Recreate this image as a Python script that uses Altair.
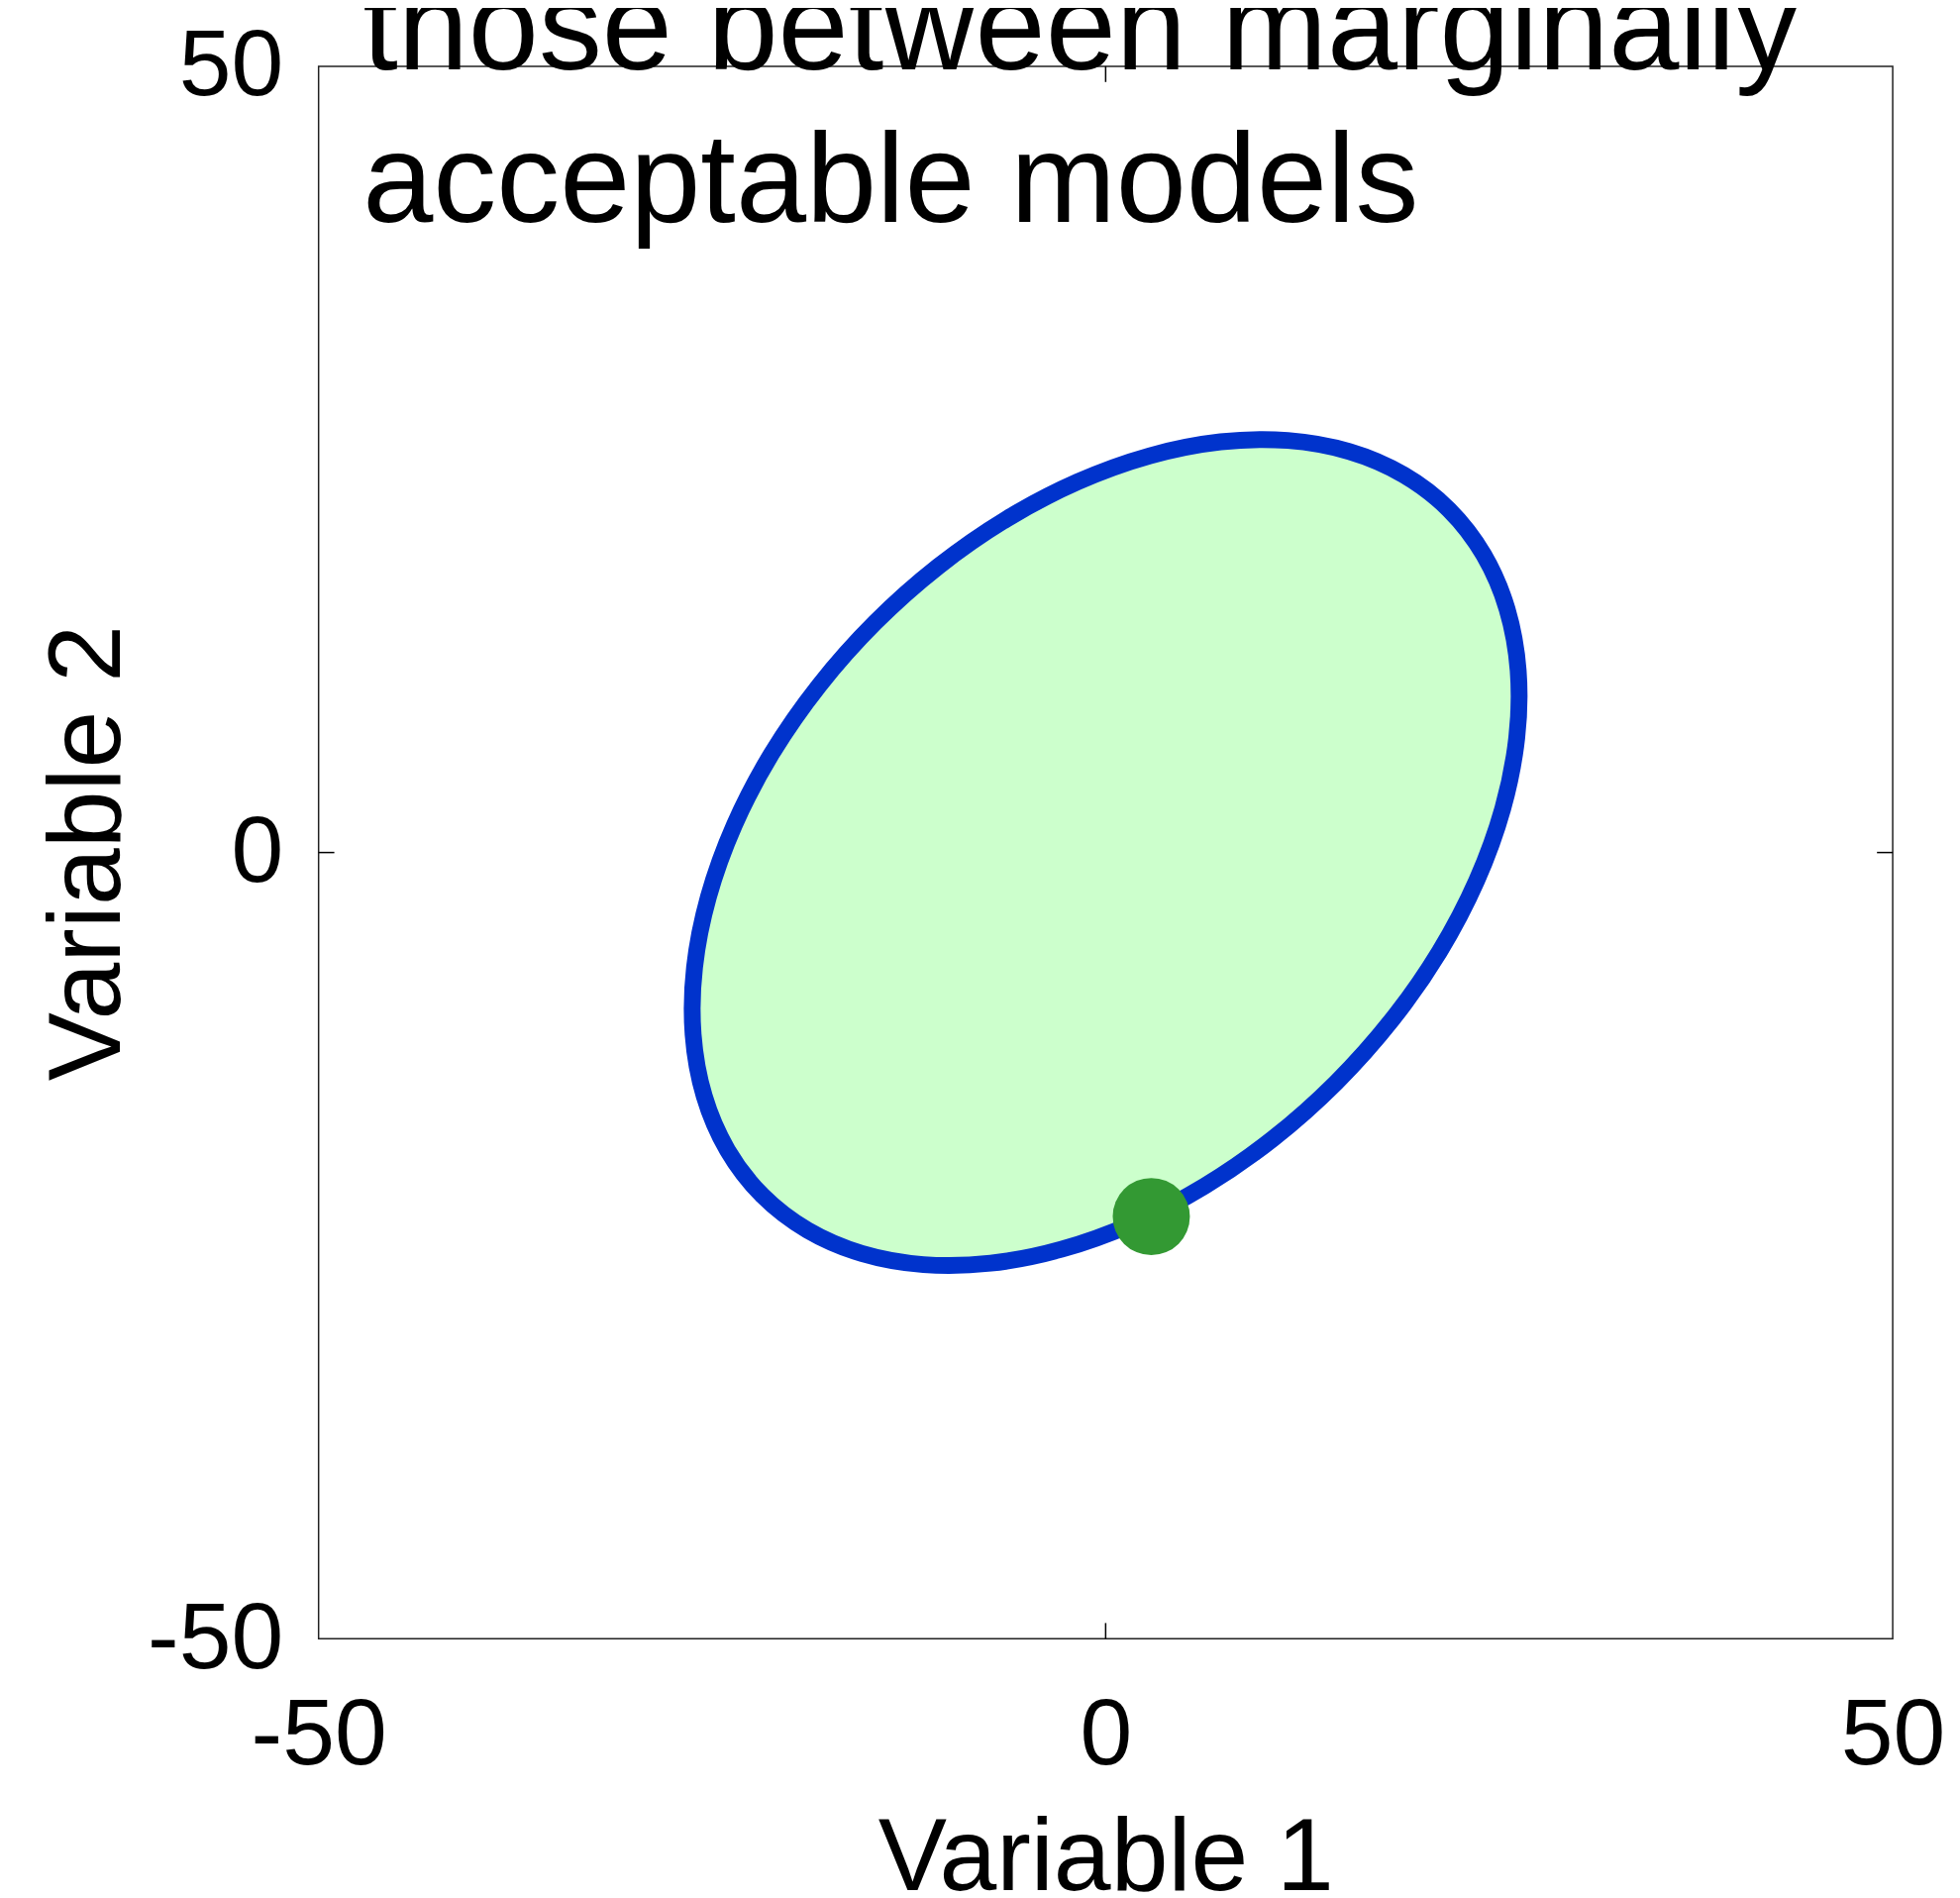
import altair as alt
import pandas as pd

# Outline of the acceptable-model region, in order
outline_x = [21.92, 19.03, 15.57, 11.63, 7.34, 2.83, -1.77, -6.33, -10.68, -14.71,
             -18.29, -21.32, -23.70, -25.36, -26.25, -26.34, -25.63, -24.14, -21.92, -19.03,
             -15.57, -11.63, -7.34, -2.83, 1.77, 6.33, 10.68, 14.71, 18.29, 21.32,
             23.70, 25.36, 26.25, 26.34, 25.63, 24.14]
outline_y = [21.92, 24.14, 25.63, 26.34, 26.25, 25.36, 23.70, 21.32, 18.29, 14.71,
             10.68, 6.33, 1.77, -2.83, -7.34, -11.63, -15.57, -19.03, -21.92, -24.14,
             -25.63, -26.34, -26.25, -25.36, -23.70, -21.32, -18.29, -14.71, -10.68, -6.33,
             -1.77, 2.83, 7.34, 11.63, 15.57, 19.03]

# Highlighted model
point_x = [2.9]
point_y = [-23.15]

# Annotation text (top lines partially cut off in the original)
text_lines = ["those between marginally", "acceptable models"]
text_x = [-47.2, -47.2]
text_y = [49.8, 40.1]

# Axis ticks
tick_values = [-50, 0, 50]
# Inner tick marks (MATLAB style, pointing into the box)
itick_x = [0, 0, -50, 50]
itick_x2 = [0, 0, -49, 49]
itick_y = [-50, 50, 0, 0]
itick_y2 = [-49, 49, 0, 0]

outline = pd.DataFrame({"x": outline_x, "y": outline_y, "i": list(range(len(outline_x)))})
pts = pd.DataFrame({"x": point_x, "y": point_y})
txt = pd.DataFrame({"x": text_x, "y": text_y, "t": text_lines})
ticks = pd.DataFrame({"x": itick_x, "x2": itick_x2, "y": itick_y, "y2": itick_y2})

FONT = "Liberation Sans"

xscale = alt.Scale(domain=[-50, 50], nice=False, zero=False)
yscale = alt.Scale(domain=[-50, 50], nice=False, zero=False)

xaxis = alt.Axis(values=tick_values, title="Variable 1", grid=False, domain=False,
                 ticks=False, tickSize=0, labelFontSize=95, labelPadding=51,
                 labelExpr="'' + datum.value",
                 labelFlush=False, labelOverlap=False, labelFont=FONT, labelColor="black",
                 titleFont=FONT, titleFontSize=104, titleFontWeight="normal",
                 titleColor="black", titlePadding=26)
yaxis = alt.Axis(values=tick_values, title="Variable 2", grid=False, domain=False,
                 ticks=False, tickSize=0, labelFontSize=95, labelPadding=36,
                 labelExpr="'' + datum.value",
                 labelFlush=False, labelOverlap=False, labelFont=FONT, labelColor="black",
                 titleFont=FONT, titleFontSize=104, titleFontWeight="normal",
                 titleColor="black", titlePadding=6)

region = alt.Chart(outline).mark_line(
    interpolate="basis-closed", fill="#ccffcc", stroke="#0033cc", strokeWidth=17
).encode(
    x=alt.X("x:Q", scale=xscale, axis=xaxis),
    y=alt.Y("y:Q", scale=yscale, axis=yaxis),
    order="i:Q",
)

dot = alt.Chart(pts).mark_circle(size=6084, color="#339933", opacity=1).encode(
    x=alt.X("x:Q", scale=xscale), y=alt.Y("y:Q", scale=yscale)
)

tick_rules = alt.Chart(ticks).mark_rule(color="black", strokeWidth=1.5).encode(
    x=alt.X("x:Q", scale=xscale), x2="x2:Q",
    y=alt.Y("y:Q", scale=yscale), y2="y2:Q",
)

label = alt.Chart(txt).mark_text(
    align="left", baseline="alphabetic", font=FONT, fontSize=128, color="black"
).encode(x=alt.X("x:Q", scale=xscale), y=alt.Y("y:Q", scale=yscale), text="t:N")

chart = alt.layer(region, dot, tick_rules, label).properties(
    width=1591, height=1589,
    autosize=alt.AutoSizeParams(type="none"),
    padding={"left": 314, "top": 58, "right": 60, "bottom": 275},
).configure_view(stroke="#222222", strokeWidth=1.5)

chart.save("out.html", embed_options={"renderer": "svg", "actions": False})
